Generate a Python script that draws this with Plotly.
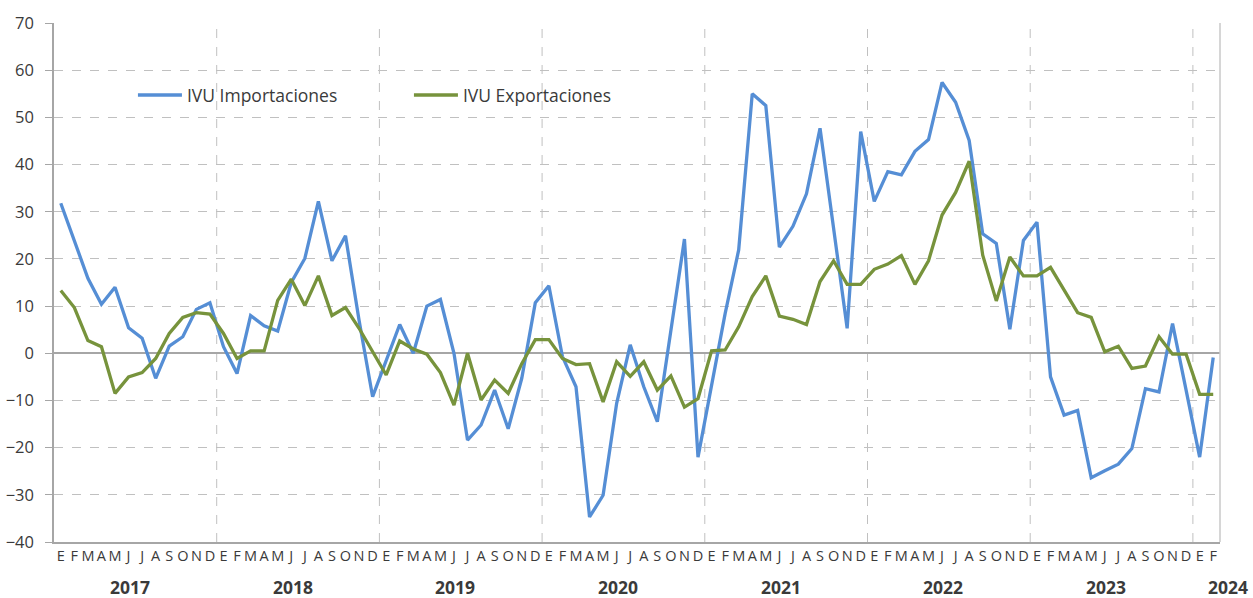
import plotly.graph_objects as go

years = [2017, 2018, 2019, 2020, 2021, 2022, 2023, 2024]
month_letters = ["E", "F", "M", "A", "M", "J", "J", "A", "S", "O", "N", "D"]

imports = [
    31.8, 23.7, 15.9, 10.4, 14.0, 5.4, 3.2, -5.3, 1.5, 3.5, 9.3, 10.7,
    1.4, -4.3, 8.0, 5.8, 4.7, 15.0, 20.1, 32.2, 19.6, 24.9, 7.0, -9.2,
    -1.5, 6.1, 0.0, 10.0, 11.4, 0.0, -18.4, -15.2, -7.8, -16.0, -5.3, 10.7,
    14.3, -0.7, -7.1, -34.7, -30.1, -10.6, 1.8, -7.1, -14.5, 5.0, 24.2, -22.0,
    -6.6, 8.4, 21.9, 55.0, 52.5, 22.5, 26.9, 33.8, 47.7, 27.0, 5.3, 47.0,
    32.2, 38.5, 37.8, 42.8, 45.3, 57.4, 53.2, 45.1, 25.3, 23.3, 5.1, 23.9,
    27.8, -5.0, -13.1, -12.1, -26.4, -24.9, -23.5, -20.2, -7.5, -8.2, 6.3, -7.8,
    -22.0, -0.9,
]

exports = [
    13.3, 9.7, 2.7, 1.4, -8.5, -5.0, -4.1, -1.1, 4.2, 7.6, 8.6, 8.3,
    4.2, -1.1, 0.5, 0.5, 11.2, 15.7, 10.1, 16.4, 8.0, 9.7, 5.3, 0.5,
    -4.6, 2.6, 0.9, -0.2, -4.1, -11.0, 0.0, -9.9, -5.7, -8.5, -2.2, 2.9,
    2.9, -1.1, -2.4, -2.2, -10.3, -1.8, -4.9, -1.8, -7.8, -4.8, -11.4, -9.6,
    0.5, 0.7, 5.6, 12.0, 16.4, 7.9, 7.2, 6.1, 15.2, 19.6, 14.6, 14.6,
    17.8, 18.9, 20.7, 14.6, 19.6, 29.3, 34.1, 40.7, 20.8, 11.1, 20.4, 16.4,
    16.4, 18.2, 13.4, 8.6, 7.6, 0.3, 1.5, -3.2, -2.7, 3.5, -0.2, -0.2,
    -8.7, -8.7,
]

n = len(imports)
x = list(range(n))
tick_text = [month_letters[i % 12] for i in x]

TEXT = "#3a3a3a"
GRID = "#c0c0c0"
AXIS = "#a6a6a6"
FONT = "Open Sans"

fig = go.Figure()
fig.add_trace(go.Scatter(x=x, y=imports, mode="lines", name="IVU Importaciones",
                         line=dict(color="#558ED5", width=3.3)))
fig.add_trace(go.Scatter(x=x, y=exports, mode="lines", name="IVU Exportaciones",
                         line=dict(color="#77933C", width=3.3)))

# year separators (dashed vertical gridlines)
for k in range(1, len(years)):
    xv = k * 12 - 0.5
    if xv < n:
        fig.add_shape(type="line", xref="x", yref="y", x0=xv, x1=xv, y0=-40, y1=70,
                      line=dict(color=GRID, width=1, dash="dash"), layer="below")

# right border
fig.add_shape(type="line", xref="paper", yref="y", x0=1, x1=1, y0=-40, y1=70,
              line=dict(color="#c8c8c8", width=1.5))

# year labels
for k, yr in enumerate(years):
    if k < len(years) - 1:
        xpos, xshift = k * 12 + 5.1, 0
    else:
        xpos, xshift = n - 0.5, 8
    fig.add_annotation(x=xpos, xshift=xshift, y=-0.086, xref="x", yref="paper",
                       text=f"<b>{yr}</b>", showarrow=False,
                       font=dict(size=17.5, color=TEXT, family=FONT),
                       xanchor="center", yanchor="middle")

fig.update_layout(
    width=1253, height=598,
    margin=dict(l=54, r=33, t=23, b=56, autoexpand=False),
    paper_bgcolor="white", plot_bgcolor="white",
    font=dict(family=FONT, color=TEXT),
    showlegend=True,
    legend=dict(orientation="h", x=0.0677, y=0.861, xanchor="left", yanchor="middle",
                font=dict(size=17.5, color=TEXT, family=FONT), bgcolor="rgba(0,0,0,0)",
                entrywidth=217, itemwidth=44),
    xaxis=dict(range=[-0.5, n - 0.5], tickmode="array", tickvals=x, ticktext=tick_text,
               tickangle=0, showgrid=False, zeroline=False, showline=True,
               linecolor=AXIS, linewidth=1.5, ticks="", automargin=False,
               tickfont=dict(size=14.5, color=TEXT, family=FONT)),
    yaxis=dict(range=[-40, 70], dtick=10, tickmode="linear", showgrid=True,
               gridcolor=GRID, griddash="dash", gridwidth=1, automargin=False,
               zeroline=True, zerolinecolor=AXIS, zerolinewidth=1.5,
               showline=True, linecolor=AXIS, linewidth=1.5,
               ticks="outside", ticklen=7, tickcolor=AXIS, ticklabelstandoff=8,
               tickfont=dict(size=16.5, color=TEXT, family=FONT)),
)

fig.write_html(
    "out.html",
    config={"displayModeBar": False},
    post_script="document.body.style.margin='0';document.body.style.padding='0';"
                "document.body.style.overflow='hidden';",
)
